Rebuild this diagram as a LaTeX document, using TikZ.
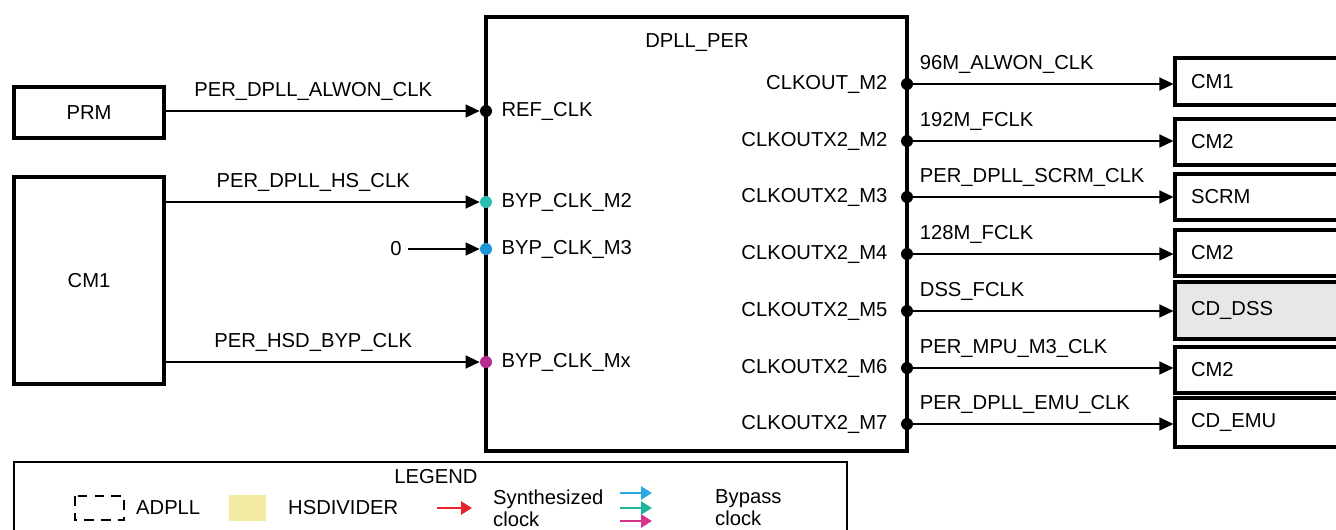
\documentclass[tikz,border=0pt]{standalone}
\usepackage{fontspec}
\setmainfont{Liberation Sans}
\usetikzlibrary{arrows.meta,positioning}

\begin{document}
\begin{tikzpicture}[x=0.02cm, y=-0.02cm, >={Triangle[length=0.28cm,width=0.26cm]},
		font=\fontsize{11.5}{13.8}\selectfont,
		box/.style={draw, line width=1.8pt, inner sep=0pt},
		rbox/.style={draw, line width=1.8pt, minimum width=4cm, text width=3.36cm, inner xsep=0.32cm, align=left},
		dot/.style={circle, fill, inner sep=0pt, minimum size=0.24cm},
		wire/.style={line width=0.8pt},
		lbl/.style={above, yshift=0.07cm},
		legarrow/.style={line width=1.6pt, -{Triangle[length=0.22cm,width=0.26cm]}}]
		\definecolor{tealdot}{RGB}{45, 190, 178}
		\definecolor{bluedot}{RGB}{27, 149, 217}
		\definecolor{magdot}{RGB}{181, 43, 143}
		\definecolor{dssgray}{RGB}{230, 231, 232}
		\definecolor{hsdiv}{RGB}{243, 235, 163}
		\definecolor{synred}{RGB}{232, 35, 42}
		\definecolor{bypblue}{RGB}{41, 169, 224}
		\definecolor{bypteal}{RGB}{31, 181, 154}
		\definecolor{bypmag}{RGB}{214, 51, 138}
		
		% 画布范围
		\useasboundingbox (0,0) rectangle (1336,529);
		\clip (0,0) rectangle (1336,529);
		
		% 左侧方框
		\node[box, minimum width=3cm, minimum height=1.02cm] (prm) at (89,112.5) {PRM};
		\node[box, minimum width=3cm, minimum height=4.14cm] (cmA) at (89,280.5) {CM1};
		
		% DPLL_PER 方框
		\node[box, minimum width=8.42cm, minimum height=8.68cm] (dpll) at (696.5,234) {};
		\node (title) at (697,43) {DPLL\_PER};
		
		% 输入端口
		\node[dot] (ref) at (486,111) {};
		\node[dot, fill=tealdot] (bypA) at (486,202) {};
		\node[dot, fill=bluedot] (bypB) at (486,249) {};
		\node[dot, fill=magdot] (bypC) at (486,362) {};
		\node[right=0.06cm of ref] {REF\_CLK};
		\node[right=0.06cm of bypA] {BYP\_CLK\_M2};
		\node[right=0.06cm of bypB] {BYP\_CLK\_M3};
		\node[right=0.06cm of bypC] {BYP\_CLK\_Mx};
		
		% 输入连线
		\draw[wire, ->] (prm.east |- ref) -- node[lbl, pos=0.47] {PER\_DPLL\_ALWON\_CLK} (ref);
		\draw[wire, ->] (cmA.east |- bypA) -- node[lbl, pos=0.47] {PER\_DPLL\_HS\_CLK} (bypA);
		\node (zero) at (396,249) {0};
		\draw[wire, ->] (zero) -- (bypB);
		\draw[wire, ->] (cmA.east |- bypC) -- node[lbl, pos=0.47] {PER\_HSD\_BYP\_CLK} (bypC);
		
		% 输出端口
		\node[dot] (outA) at (907,84) {};
		\node[dot] (outB) at (907,141) {};
		\node[dot] (outC) at (907,197) {};
		\node[dot] (outD) at (907,254) {};
		\node[dot] (outE) at (907,311) {};
		\node[dot] (outF) at (907,368) {};
		\node[dot] (outG) at (907,424) {};
		\node[left=0.14cm of outA] {CLKOUT\_M2};
		\node[left=0.14cm of outB] {CLKOUTX2\_M2};
		\node[left=0.14cm of outC] {CLKOUTX2\_M3};
		\node[left=0.14cm of outD] {CLKOUTX2\_M4};
		\node[left=0.14cm of outE] {CLKOUTX2\_M5};
		\node[left=0.14cm of outF] {CLKOUTX2\_M6};
		\node[left=0.14cm of outG] {CLKOUTX2\_M7};
		
		% 右侧方框
		\node[rbox, minimum height=0.94cm] (dstA) at (1275,81.5) {CM1};
		\node[rbox, minimum height=0.92cm] (dstB) at (1275,142) {CM2};
		\node[rbox, minimum height=0.92cm] (dstC) at (1275,197) {SCRM};
		\node[rbox, minimum height=0.92cm] (dstD) at (1275,253) {CM2};
		\node[rbox, minimum height=1.14cm, fill=dssgray] (dstE) at (1275,310.5) {CD\_DSS};
		\node[rbox, minimum height=0.92cm] (dstF) at (1275,370) {CM2};
		\node[rbox, minimum height=0.98cm] (dstG) at (1275,422.5) {CD\_EMU};
		
		% 输出连线
		\draw[wire, ->] (outA) -- node[lbl, pos=0, anchor=south west] {96M\_ALWON\_CLK} (outA -| dstA.west);
		\draw[wire, ->] (outB) -- node[lbl, pos=0, anchor=south west] {192M\_FCLK} (outB -| dstB.west);
		\draw[wire, ->] (outC) -- node[lbl, pos=0, anchor=south west] {PER\_DPLL\_SCRM\_CLK} (outC -| dstC.west);
		\draw[wire, ->] (outD) -- node[lbl, pos=0, anchor=south west] {128M\_FCLK} (outD -| dstD.west);
		\draw[wire, ->] (outE) -- node[lbl, pos=0, anchor=south west] {DSS\_FCLK} (outE -| dstE.west);
		\draw[wire, ->] (outF) -- node[lbl, pos=0, anchor=south west] {PER\_MPU\_M3\_CLK} (outF -| dstF.west);
		\draw[wire, ->] (outG) -- node[lbl, pos=0, anchor=south west] {PER\_DPLL\_EMU\_CLK} (outG -| dstG.west);
		
		% 图例
		\draw[line width=0.6pt] (14,462) rectangle (847,560);
		\node (legend) at (436,477) {LEGEND};
		\draw[line width=1.4pt, dash pattern=on 5.5pt off 4pt] (75,496) rectangle (124,520);
		\node[right] (adpll) at (130,508) {ADPLL};
		\fill[hsdiv] (229,495) rectangle (266,521);
		\node[right] (hsd) at (282,508) {HSDIVIDER};
		\draw[legarrow, synred] (437,508) -- (472,508);
		\node[right, align=left, font=\fontsize{11.5}{12.5}\selectfont] (synth) at (487,508) {Synthesized\\clock};
		\draw[legarrow, bypblue] (620,493) -- (652,493);
		\draw[legarrow, bypteal] (620,508) -- (652,508);
		\draw[legarrow, bypmag] (620,521) -- (652,521);
		\node[right, align=left, font=\fontsize{11.5}{12.5}\selectfont] (bypass) at (709,508) {Bypass\\clock};
	\end{tikzpicture}
\end{document}
